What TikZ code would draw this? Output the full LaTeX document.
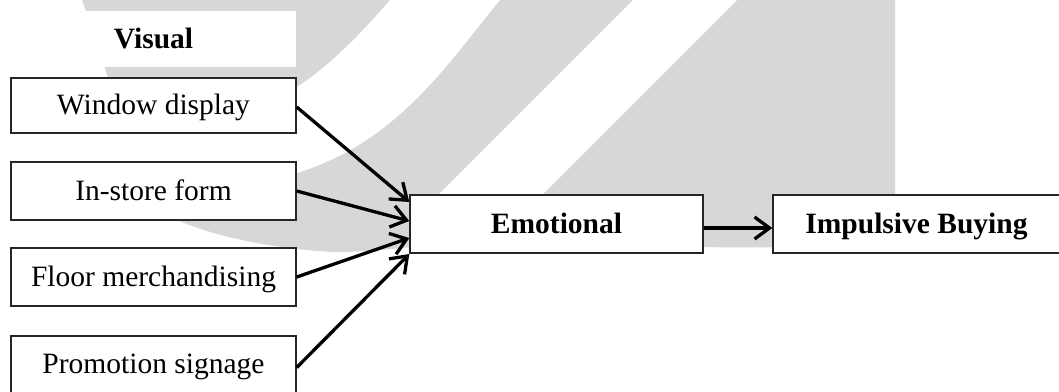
\documentclass[tikz,border=0pt]{standalone}
\usepackage{fontspec}
\setmainfont{Liberation Serif}
\usetikzlibrary{arrows.meta,calc}
\definecolor{wm}{RGB}{215,215,215}
\begin{document}
\begin{tikzpicture}[x=1pt,y=-1pt,
  box/.style={draw=black!85, line width=1.4pt, fill=white, inner sep=0pt,
    minimum width=285pt, text height=25pt, text depth=6.4pt,
    font=\fontsize{29.5}{34}\selectfont},
  bbox/.style={box, font=\fontsize{29.5}{34}\selectfont\bfseries},
  arr/.style={line width=3.3pt, -{Straight Barb[length=15pt,width=22pt]}}]
\useasboundingbox (0,0) rectangle (1059,391);
\clip (0,0) rectangle (1059,391);
% watermark
\fill[wm] (82,0) -- (895,0) -- (895,248) -- (420,246)
  .. controls (370,252) and (340,253) .. (317,251)
  .. controls (260,246) and (210,235) .. (172,218)
  -- (125,130) .. controls (118,100) and (110,85) .. (107,75)
  .. controls (98,45) and (90,22) .. (82,0) -- cycle;
\fill[white] (390,0) -- (500,0) .. controls (450,60) and (400,140) .. (300,172)
  .. controls (250,188) and (205,205) .. (172,220) -- (0,230) -- (0,125)
  -- (125,128) .. controls (200,120) and (270,100) .. (300,85)
  .. controls (330,65) and (360,35) .. (390,0) -- cycle;
\fill[white] (633,0) -- (737,0) -- (532,205) -- (428,205) -- cycle;
% nodes
\node[bbox, draw=none, minimum height=56pt] (vis) at (153.5,39) {Visual};
\node[box, minimum height=55pt] (wd) at (153.5,105.5) {Window display};
\node[box, minimum height=58pt] (isf) at (153.5,191) {In-store form};
\node[box, minimum height=58pt] (fm) at (153.5,277) {Floor merchandising};
\node[box, minimum height=57pt] (ps) at (153.5,364.5) {Promotion signage};
\node[bbox, minimum width=293pt, minimum height=58pt] (em) at (556.5,224) {Emotional};
\node[bbox, minimum width=287pt, minimum height=58pt] (ib) at (916.5,224) {Impulsive Buying};
% connectors
\draw[arr] ($(wd.east)+(0,1.5)$) -- ($(em.west)+(0,-22)$);
\draw[arr] (isf.east) -- ($(em.west)+(0,-3)$);
\draw[arr] (fm.east) -- ($(em.west)+(0,14)$);
\draw[arr] ($(ps.east)+(0,3)$) -- ($(em.west)+(0,30)$);
\draw[arr] ($(em.east)+(0,4)$) -- ($(ib.west)+(0,4)$);
\end{tikzpicture}
\end{document}
